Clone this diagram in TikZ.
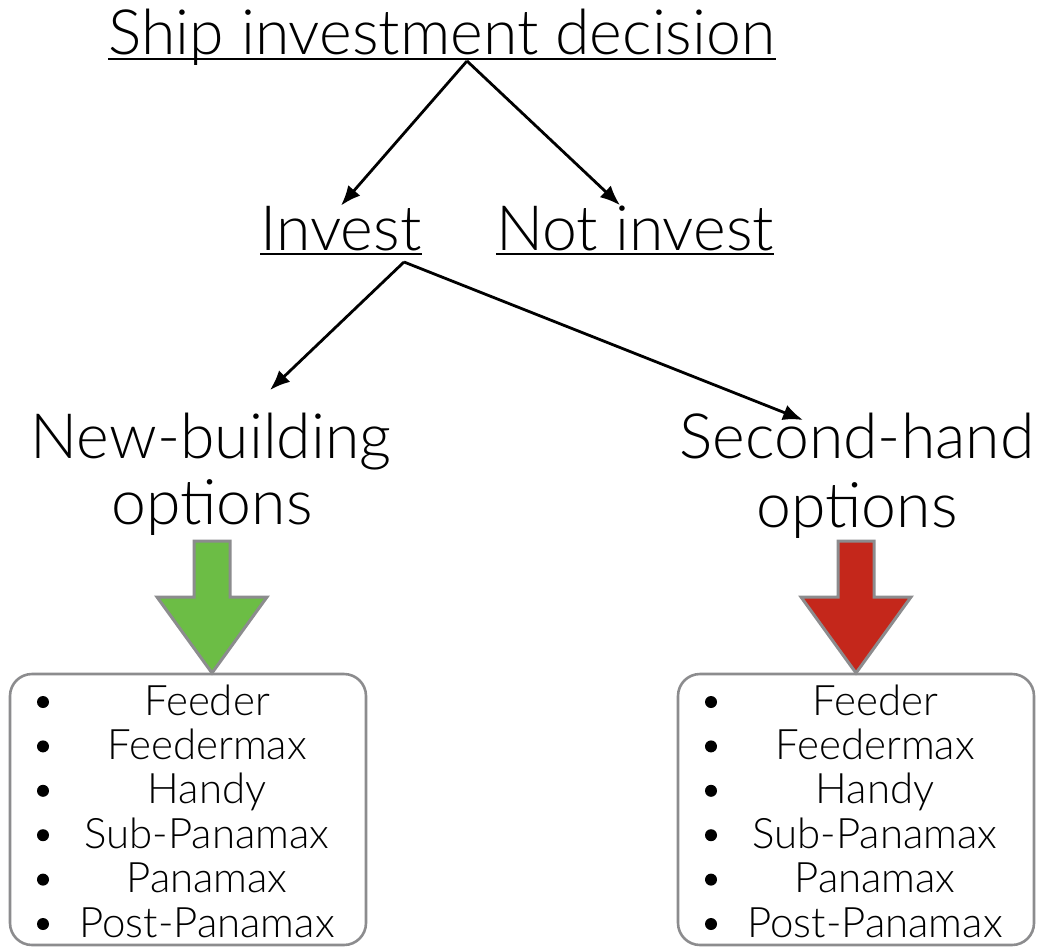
\documentclass[tikz,border=0pt]{standalone}
\usepackage{fontspec}
\setmainfont{Lato}[UprightFont={* Light}]
\usetikzlibrary{arrows.meta}
\tikzset{>={Latex[length=20pt, width=16pt]}}
\definecolor{nbgreen}{RGB}{108,189,69}
\definecolor{shred}{RGB}{196,39,27}
\definecolor{edgegr}{RGB}{140,140,142}
\tikzset{
    link/.style={->, line width=2.8pt},
    uline/.style={line width=2.6pt},
    head/.style={font=\fontsize{62.5}{68}\selectfont, inner sep=0pt, anchor=base},
    item/.style={font=\fontsize{42}{46}\selectfont, inner sep=0pt, anchor=base},
    optbox/.style={draw=edgegr, line width=2.6pt, rounded corners=22pt},
    blockarr/.style={draw=edgegr, line width=3pt, line join=miter}
}
% fat down arrow: #1 centre x, #2 fill colour
\newcommand*{\shiparrow}[2]{%
    \draw[blockarr, fill=#2](#1-18, 541)--(#1+18, 541)--(#1+18, 597)--(#1+55, 597)--(#1, 673)--(#1-55, 597)--(#1-18, 597)--cycle;}

\begin{document}
\begin{tikzpicture}[x=1pt, y=-1pt]
    \useasboundingbox(0, 0) rectangle (1040, 947);
    \node[head](title)at(442, 55){Ship investment decision};
    \node[head](inv)at(341, 250){Invest};
    \node[head](notinv)at(635, 250){Not invest};
    \node[head](newb)at(211, 458){New-building};
    \node[head](newbopt)at(212, 524){options};
    \node[head](sech)at(857, 458){Second-hand};
    \node[head](sechopt)at(857, 527){options};
    \foreach \n in {title, inv, notinv}					%underlines
        \draw[uline]([yshift=-4pt]\n.base west)--([yshift=-4pt]\n.base east);
    \coordinate(titlefork)at(467, 61);
    \coordinate(invfork)at(404, 262);
    \coordinate(newbtip)at(270, 390);
    \coordinate(sechtip)at(803, 420);
    \draw[link](titlefork)--(inv.north);
    \draw[link](titlefork)--([xshift=-15pt]notinv.north);
    \draw[link](invfork)--(newbtip);
    \draw[link](invfork)--(sechtip);
    \shiparrow{212}{nbgreen}							%new-building
    \shiparrow{856}{shred}							%second-hand
    \foreach \bx/\bn in {10/nb, 678/sh}{
        \draw[optbox](\bx, 674) rectangle (\bx+356, 945);
        \foreach \vessel[count=\i from 0] in {Feeder, Feedermax, Handy, Sub-Panamax, Panamax, Post-Panamax}{
            \fill(\bx+33, 702+44.4*\i) circle(6pt);
            \node[item](\bn\i)at(\bx+197, 715+44.4*\i){\vessel};
        }
    }
\end{tikzpicture}
\end{document}
